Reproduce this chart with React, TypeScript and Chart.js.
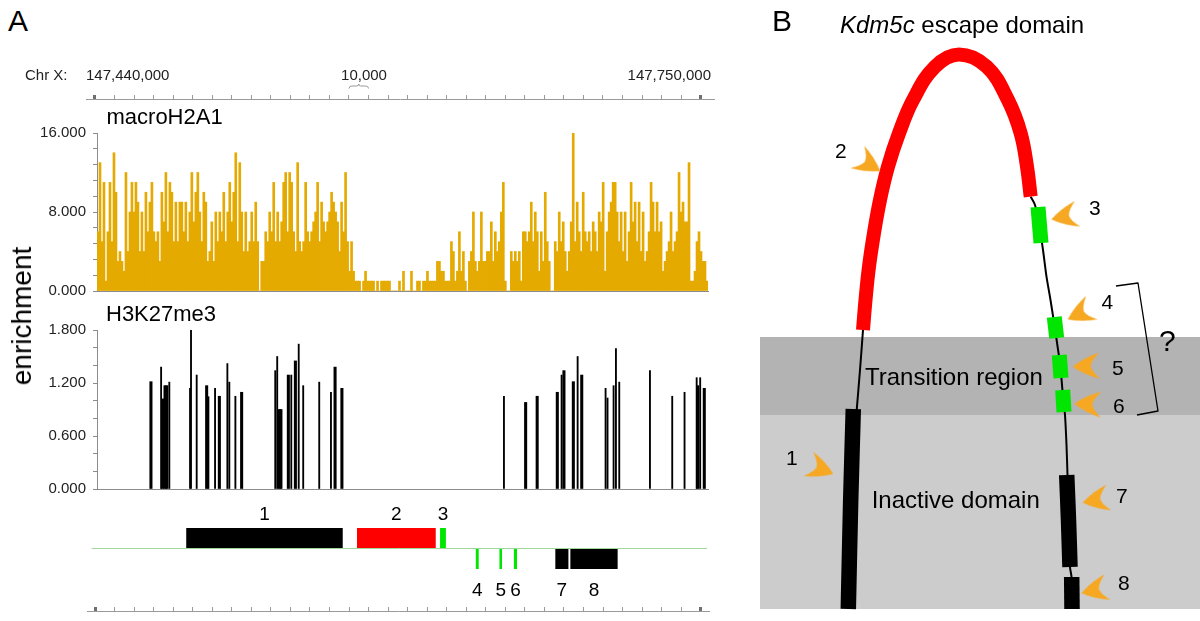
import React, { useEffect, useRef } from 'react';
import { Chart, registerables } from 'chart.js';

Chart.register(...registerables);

const FONT = "'Liberation Sans', Arial, Helvetica, sans-serif";
Chart.defaults.font.family = FONT;

// ================= Panel A data =================
// Genome positions are kb offsets from chrX:147,440,000
const RULER_FIRST_KB = 0;
const RULER_LAST_KB = 310;
const RULER_STEP_KB = 10;
const SCALE_BAR_KB = [130, 140];
const RULER_LABELS = ['147,440,000', '10,000', '147,750,000'];

// macroH2A1 enrichment, consecutive ~1 kb bins across the view
const MACRO_VALUES = [
  6, 13, 5, 11, 1, 6, 11, 5, 14, 10, 3, 4, 3, 2, 12, 4, 8, 11, 8, 11,
  9, 4, 8, 4, 10, 6, 9, 11, 6, 5, 6, 3, 10, 7, 12, 6, 11, 10, 5, 9,
  5, 9, 9, 6, 9, 5, 8, 12, 7, 10, 12, 8, 5, 10, 9, 3, 4, 7, 3, 8,
  5, 8, 6, 10, 5, 8, 11, 7, 10, 14, 5, 13, 8, 4, 8, 4, 5, 8, 5, 9,
  5, 0, 3, 3, 6, 5, 8, 6, 11, 5, 8, 5, 7, 11, 12, 6, 12, 11, 6, 4,
  13, 5,
  4, 5, 11, 6, 5, 6, 7, 8, 11, 5, 9, 7, 6, 7, 8, 10, 9, 8, 7, 4,
  9, 6, 12, 5, 2, 5, 2, 1, 1, 1, 0, 1, 2, 1, 1, 1, 1, 0, 1, 0,
  1, 1, 1, 1, 1, 0, 0, 0, 0, 1, 0, 2, 0, 0, 0, 2, 0, 0, 1, 1,
  0, 1, 1, 2, 1, 1, 1, 1, 3, 3, 2, 2, 1, 1, 1, 5, 4, 1, 2, 6,
  2, 4, 1, 0, 3, 4, 8, 3, 2, 3, 8, 3, 3, 4, 4, 7, 3, 6, 4, 5,
  8, 11,
  1, 0, 0, 4, 3, 4, 3, 4, 1, 6, 6, 5, 6, 9, 5, 8, 6, 2, 6, 3,
  10, 5, 3, 0, 0, 5, 4, 8, 5, 7, 4, 2, 4, 7, 16, 5, 9, 6, 4, 10,
  6, 5, 6, 4, 7, 6, 4, 8, 7, 11, 2, 6, 8, 9, 11, 11, 8, 5, 8, 4,
  8, 3, 6, 11, 7, 9, 5, 9, 4, 8, 3, 4, 6, 11, 9, 6, 9, 6, 7, 2,
  3, 4, 5, 8, 4, 5, 6, 12, 8, 9, 7, 7, 13, 1, 1, 2, 5, 6, 4, 3,
  3, 1,
];
const MACRO_TICK_LABELS = [0, 8, 16];

// H3K27me3 peaks (kb position, enrichment)
const H3_THIN_KB = [33.8, 38.0, 48.6, 49.1, 52.0, 58.0, 61.4, 67.7, 68.7, 71.8, 92.2, 93.2, 100.4, 104.2, 106.5, 114.7, 120.7, 209.2, 238.7, 246.9, 261.2, 262.2, 265.3, 266.5, 268.2, 283.9, 295.3, 301.6, 307.8, 309.6];
const H3_THIN_VALUES = [1.38, 1.21, 1.14, 1.81, 1.29, 1.045, 1.14, 1.42, 1.21, 1.05, 1.34, 1.5, 1.29, 1.64, 1.17, 1.21, 1.095, 1.05, 1.29, 1.5, 1.14, 1.03, 1.17, 1.59, 1.21, 1.34, 1.05, 1.095, 1.26, 1.26];
const H3_THICK_KB = [28.6, 34.6, 35.8, 36.7, 57.1, 63.6, 75.0, 94.3, 95.1, 98.9, 102.5, 122.8, 126.3, 220.3, 226.2, 236.5, 239.9, 244.7, 249.0, 308.4, 311.7];
const H3_THICK_VALUES = [1.215, 1.02, 1.17, 1.17, 1.17, 1.05, 1.095, 0.9, 0.9, 1.29, 1.45, 1.38, 1.14, 0.98, 1.05, 1.095, 1.34, 1.215, 1.29, 1.17, 1.14];
const H3_TICK_LABELS = [0, 0.6, 1.2, 1.8];

// annotation features
const FEATURE_NAMES = ['1', '2', '3', '4', '5', '6', '7', '8'];
const FEATURE_START_KB = [46.7, 134.1, 176.6, 194.9, 207.0, 214.4, 235.6, 243.3];
const FEATURE_END_KB = [126.8, 174.4, 179.6, 196.4, 208.3, 216.0, 242.3, 267.5];
const FEATURE_STRAND = [1, 1, 1, -1, -1, -1, -1, -1];
const FEATURE_KIND = ['inactive', 'escape', 'boundary', 'boundary', 'boundary', 'boundary', 'inactive', 'inactive'];
const TRACK_LINE_KB = [-1.7, 313.2];

// ================= Panel B data (schematic coordinates) =================
const BAND_TRANSITION = [337, 415];
const BAND_INACTIVE = [415, 609];
const ESCAPE_ARC = [[103, 330], [105.5, 300], [109, 266.7], [114, 233], [120, 200], [128, 166.7], [139, 133.3], [153, 100], [175, 66.7], [199, 54.5], [226.7, 66.7], [248, 100], [260.7, 133.3], [267, 166.7], [270.7, 196.7]];
const RIGHT_FIBER = [[270.7, 196.7], [275, 205], [279.3, 225], [283, 250], [286.5, 276.7], [290.5, 300], [294.7, 327], [297.5, 346], [300.3, 366], [303.3, 400], [305, 415], [306.5, 445], [307.5, 475], [309, 520], [310, 567], [311.5, 577], [312, 609]];
const LEFT_FIBER = [[103, 330], [100, 370], [96.7, 410]];
const BOUNDARY_BOXES = [
  [[278, 207], [281, 243]],
  [[294.3, 317], [296.7, 338]],
  [[299.3, 355], [301, 378]],
  [[302.7, 390], [304, 412]],
];
const INACTIVE_BOXES = [
  [[93.3, 409], [90.7, 500], [88.3, 609]],
  [[306.7, 475], [308.5, 520], [310, 567]],
  [[311.7, 577], [312, 609]],
];
const BRACKET = [[356, 286], [378, 283], [398, 411], [377, 415]];
const ARROW_POINTS = [[60.3, 468.7], [108.3, 163.7], [305, 216.5], [320.3, 313.3], [326.7, 366.2], [328.3, 404.2], [336.3, 500], [335, 590]];
const ARROW_ANGLES = [22, 32, 168, 154, 178, 182, 169, 167];

// ================= styles =================
const GOLD = '#E5AA00';
const AXIS_GRAY = '#8c8c8c';
const KIND_COLOR: Record<string, string> = { inactive: '#000000', escape: '#ff0000', boundary: '#00e600' };
const ORANGE = '#F6A823';

const near = (a: number, list: number[]) => list.some((t) => Math.abs(t - a) < 1e-6);
const pts = (arr: number[][]) => arr.map(([x, y]) => ({ x, y }));

const baseOpts = (padding: any) => ({
  animation: false as const,
  responsive: false,
  events: [] as any[],
  layout: { padding, autoPadding: false },
  plugins: { legend: { display: false }, tooltip: { enabled: false } },
});

function rulerConfig(min: number, max: number, padL: number, padR: number, axisH: number, extra?: any) {
  const isEnd = (v: any) => v === RULER_FIRST_KB || v === RULER_LAST_KB;
  return {
    type: 'scatter',
    data: { datasets: [] },
    options: {
      ...baseOpts({ left: padL, right: padR, top: 0, bottom: 0 }),
      scales: {
        x: {
          type: 'linear', position: 'top', min, max,
          ticks: { display: false, stepSize: RULER_STEP_KB, includeBounds: false },
          grid: {
            drawOnChartArea: false, drawTicks: true, tickLength: 4,
            color: (c: any) => (isEnd(c.tick && c.tick.value) ? '#707070' : '#9a9a9a'),
            lineWidth: (c: any) => (isEnd(c.tick && c.tick.value) ? 3 : 1),
          },
          border: { display: true, color: '#9a9a9a', width: 1 },
          afterFit: (s: any) => { s.height = axisH; },
        },
        y: { display: false, min: 0, max: 1 },
      },
    },
    plugins: extra ? [extra] : [],
  };
}

const braceplugin = {
  id: 'brace',
  afterDraw(chart: any) {
    const s = chart.scales.x;
    const ctx = chart.ctx;
    const x1 = s.getPixelForValue(SCALE_BAR_KB[0]);
    const x2 = s.getPixelForValue(SCALE_BAR_KB[1]);
    const xm = (x1 + x2) / 2;
    ctx.save();
    ctx.strokeStyle = '#999';
    ctx.lineWidth = 1;
    ctx.beginPath();
    ctx.moveTo(x1, 28.5);
    ctx.quadraticCurveTo(x1, 26, x1 + 3, 26);
    ctx.lineTo(xm - 2, 26);
    ctx.quadraticCurveTo(xm, 26, xm, 24);
    ctx.quadraticCurveTo(xm, 26, xm + 2, 26);
    ctx.lineTo(x2 - 3, 26);
    ctx.quadraticCurveTo(x2, 26, x2, 28.5);
    ctx.stroke();
    ctx.restore();
  },
};

function yAxis(max: number, step: number, labels: number[]) {
  return {
    min: 0, max,
    ticks: {
      stepSize: step, autoSkip: false,
      callback: (v: any) => (near(Number(v), labels) ? Number(v).toFixed(3) : ''),
      font: { size: 15, family: FONT }, color: '#222', padding: 7,
    },
    grid: { drawOnChartArea: false, tickLength: 4, color: AXIS_GRAY },
    border: { color: AXIS_GRAY },
    afterFit: (s: any) => { s.width = 97; s.paddingTop = 0; s.paddingBottom = 0; },
  };
}

const hiddenX = (extra: any) => ({
  ...extra,
  grid: { display: false },
  ticks: { display: false },
  border: { display: true, color: AXIS_GRAY },
  afterFit: (s: any) => { s.height = 0; s.paddingLeft = 0; s.paddingRight = 0; },
});

function macroConfig() {
  return {
    type: 'bar',
    data: {
      labels: MACRO_VALUES.map((_, i) => String(i)),
      datasets: [{ data: MACRO_VALUES, backgroundColor: GOLD, borderWidth: 0, barPercentage: 1, categoryPercentage: 1 }],
    },
    options: {
      ...baseOpts({ left: 0, right: 12, top: 23, bottom: 9 }),
      scales: { x: hiddenX({}), y: yAxis(16, 1.6, MACRO_TICK_LABELS) },
    },
  };
}

function h3Config() {
  return {
    type: 'bar',
    data: {
      datasets: [
        { data: H3_THIN_KB.map((x, i) => ({ x, y: H3_THIN_VALUES[i] })), backgroundColor: '#000', barThickness: 1.2, grouped: false },
        { data: H3_THICK_KB.map((x, i) => ({ x, y: H3_THICK_VALUES[i] })), backgroundColor: '#000', barThickness: 2.4, grouped: false },
      ],
    },
    options: {
      ...baseOpts({ left: 0, right: 12, top: 30, bottom: 11 }),
      scales: {
        x: hiddenX({ type: 'linear', min: 1.0, max: 313.6, offset: false }),
        y: yAxis(1.8, 0.2, H3_TICK_LABELS),
      },
    },
  };
}

const trackLabels = {
  id: 'trackLabels',
  afterDatasetsDraw(chart: any) {
    const { ctx, scales } = chart;
    ctx.save();
    ctx.font = `19px ${FONT}`;
    ctx.fillStyle = '#000';
    ctx.textAlign = 'center';
    ctx.textBaseline = 'alphabetic';
    FEATURE_NAMES.forEach((n, i) => {
      const x = scales.x.getPixelForValue((FEATURE_START_KB[i] + FEATURE_END_KB[i]) / 2);
      const y = scales.y.getPixelForValue(FEATURE_STRAND[i] > 0 ? 2.71 : -4.5);
      ctx.fillText(n, x, y);
    });
    ctx.restore();
  },
};

function trackConfig() {
  return {
    type: 'scatter',
    data: {
      datasets: [
        {
          data: TRACK_LINE_KB.map((x) => ({ x, y: 0 })), showLine: true, borderColor: '#9fd89f', borderWidth: 1,
          pointRadius: 0, order: 2,
        },
        ...FEATURE_NAMES.map((_, i) => ({
          data: [{ x: FEATURE_START_KB[i], y: FEATURE_STRAND[i] }, { x: FEATURE_END_KB[i], y: FEATURE_STRAND[i] }],
          showLine: true, borderColor: KIND_COLOR[FEATURE_KIND[i]], borderWidth: 20, borderCapStyle: 'butt',
          pointRadius: 0, clip: false, order: 1,
        })),
      ],
    },
    options: {
      ...baseOpts({ left: 86, right: 7, top: 27.5, bottom: 30.5 }),
      scales: {
        x: { type: 'linear', display: false, min: -4.6, max: 316.3 },
        y: { type: 'linear', display: false, min: -2, max: 2 },
      },
    },
    plugins: [trackLabels],
  };
}

function makeArrow(): HTMLCanvasElement {
  const c = document.createElement('canvas');
  c.width = 30;
  c.height = 28;
  const g = c.getContext('2d')!;
  g.fillStyle = ORANGE;
  g.beginPath();
  g.moveTo(29, 14);
  g.quadraticCurveTo(17, 5, 2, 1);
  g.quadraticCurveTo(10, 8, 11, 14);
  g.quadraticCurveTo(10, 20, 2, 27);
  g.quadraticCurveTo(17, 23, 29, 14);
  g.closePath();
  g.fill();
  return c;
}

function schemeConfig() {
  const arrow = makeArrow();
  const line = (data: number[][], color: string, width: number, order: number, tension = 0.4) => ({
    type: 'line', data: pts(data), borderColor: color, borderWidth: width, borderCapStyle: 'butt',
    borderJoinStyle: 'round', pointRadius: 0, tension, fill: false, order,
  });
  const band = (range: number[], color: string, order: number) => ({
    type: 'line', data: [{ x: 0, y: range[0] }, { x: 440, y: range[0] }], borderWidth: 0,
    borderColor: 'rgba(0,0,0,0)', backgroundColor: color, fill: { value: range[1] }, pointRadius: 0, order,
  });
  return {
    type: 'scatter',
    data: {
      datasets: [
        band(BAND_TRANSITION, '#b3b3b3', 20),
        band(BAND_INACTIVE, '#cccccc', 19),
        line(RIGHT_FIBER, '#000', 2, 8, 0.3),
        line(LEFT_FIBER, '#000', 2, 8, 0.3),
        line(ESCAPE_ARC, '#ff0000', 14, 7),
        ...BOUNDARY_BOXES.map((b) => line(b, '#00e600', 15, 5, 0)),
        ...INACTIVE_BOXES.map((b) => line(b, '#000', 15.5, 5, 0.3)),
        line(BRACKET, '#000', 1.3, 4, 0),
        {
          type: 'scatter', data: pts(ARROW_POINTS), pointStyle: arrow, pointRadius: 12,
          pointRotation: ARROW_ANGLES, showLine: false, order: 1,
        },
      ],
    },
    options: {
      ...baseOpts({ left: 0, right: 0, top: 0, bottom: 0 }),
      scales: {
        x: { type: 'linear', display: false, min: 0, max: 440 },
        y: { type: 'linear', display: false, min: 0, max: 621, reverse: true },
      },
    },
  };
}

function ChartBox({ left, top, width, height, make }: { left: number; top: number; width: number; height: number; make: () => any }) {
  const ref = useRef<HTMLCanvasElement | null>(null);
  useEffect(() => {
    if (!ref.current) return;
    const chart = new Chart(ref.current, make());
    return () => chart.destroy();
  }, []);
  return (
    <canvas
      ref={ref}
      width={width}
      height={height}
      style={{ position: 'absolute', left, top, width, height, display: 'block' }}
    />
  );
}

function Label({ x, baseline, size, align = 'left', color = '#000', children }: any) {
  const shift = align === 'left' ? '0' : align === 'center' ? '-50%' : '-100%';
  return (
    <div
      style={{
        position: 'absolute', left: x, top: baseline - 0.8465 * size, fontSize: size, lineHeight: `${size}px`,
        fontFamily: FONT, whiteSpace: 'nowrap', transform: `translateX(${shift})`, color,
      }}
    >
      {children}
    </div>
  );
}

export default function App() {
  return (
    <div style={{ position: 'absolute', left: 0, top: 0, width: 1200, height: 621, background: '#fff', overflow: 'hidden', fontFamily: FONT }}>
      {/* Panel A */}
      <ChartBox left={0} top={60} width={720} height={45} make={() => rulerConfig(-4.6, 316.3, 86, 7, 39, braceplugin)} />
      <ChartBox left={0} top={110} width={720} height={190} make={macroConfig} />
      <ChartBox left={0} top={300} width={720} height={200} make={h3Config} />
      <ChartBox left={0} top={500} width={720} height={100} make={trackConfig} />
      <ChartBox left={0} top={570} width={720} height={51} make={() => rulerConfig(-4.1, 313.7, 87, 12, 41)} />

      <Label x={8} baseline={31} size={30}>A</Label>
      <Label x={25} baseline={80} size={15} color="#222">Chr X:</Label>
      <Label x={86} baseline={80} size={15} color="#222">{RULER_LABELS[0]}</Label>
      <Label x={364} baseline={80} size={15} align="center" color="#222">{RULER_LABELS[1]}</Label>
      <Label x={711} baseline={80} size={15} align="right" color="#222">{RULER_LABELS[2]}</Label>
      <Label x={106.5} baseline={125} size={22}>macroH2A1</Label>
      <Label x={106} baseline={321.5} size={22}>H3K27me3</Label>
      <div
        style={{
          position: 'absolute', left: 22, top: 316, fontSize: 28, lineHeight: '28px', fontFamily: FONT,
          whiteSpace: 'nowrap', transform: 'translate(-50%, -50%) rotate(-90deg)',
        }}
      >
        enrichment
      </div>

      {/* Panel B */}
      <ChartBox left={760} top={0} width={440} height={621} make={schemeConfig} />
      <Label x={772} baseline={31} size={30}>B</Label>
      <Label x={840} baseline={33.3} size={24}><span style={{ fontStyle: 'italic' }}>Kdm5c</span> escape domain</Label>
      <Label x={865} baseline={385} size={24}>Transition region</Label>
      <Label x={871.7} baseline={508.3} size={24}>Inactive domain</Label>
      <Label x={786} baseline={465} size={21}>1</Label>
      <Label x={835} baseline={157.3} size={21}>2</Label>
      <Label x={1089} baseline={215} size={21}>3</Label>
      <Label x={1101.5} baseline={308.3} size={21}>4</Label>
      <Label x={1112} baseline={375} size={21}>5</Label>
      <Label x={1113} baseline={413} size={21}>6</Label>
      <Label x={1116} baseline={502.7} size={21}>7</Label>
      <Label x={1118} baseline={589.3} size={21}>8</Label>
      <Label x={1159} baseline={351.7} size={30}>?</Label>
    </div>
  );
}
